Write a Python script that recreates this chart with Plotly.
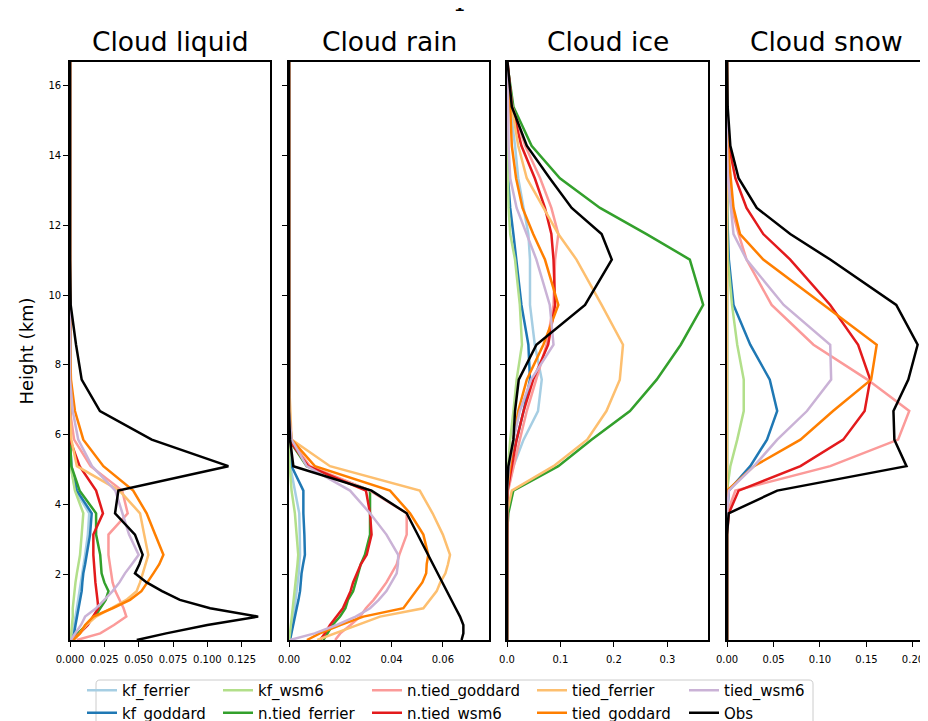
import plotly.graph_objects as go

# ---------------- data ----------------
heights = [0.12, 0.31, 0.55, 0.79, 1.03, 1.27, 1.52, 1.77, 2.03, 2.29, 2.56, 3.14, 3.75, 4.40,
           5.10, 5.86, 6.68, 7.58, 8.58, 9.72, 11.02, 11.75, 12.50, 13.35, 14.28, 15.40, 16.68]

series_names = ["kf_ferrier", "kf_goddard", "kf_wsm6", "n.tied_ferrier", "n.tied_goddard",
                "n.tied_wsm6", "tied_ferrier", "tied_goddard", "tied_wsm6", "Obs"]
series_colors = ["#a6cee3", "#1f78b4", "#b2df8a", "#33a02c", "#fb9a99",
                 "#e31a1c", "#fdbf6f", "#ff7f00", "#cab2d6", "#000000"]

panel_titles = ["Cloud liquid", "Cloud rain", "Cloud ice", "Cloud snow"]
y_tick_values = [2, 4, 6, 8, 10, 12, 14, 16]

liquid = {
    "kf_ferrier":     [0.001, 0.002, 0.003, 0.004, 0.005, 0.006, 0.007, 0.008, 0.009, 0.010, 0.011, 0.013, 0.014, 0.004, 0.0005] + [0] * 12,
    "kf_goddard":     [0.001, 0.003, 0.004, 0.005, 0.0065, 0.0075, 0.0085, 0.009, 0.0097, 0.011, 0.012, 0.0146, 0.0158, 0.005, 0.001] + [0] * 12,
    "kf_wsm6":        [0.0005, 0.001, 0.0015, 0.002, 0.002, 0.0025, 0.003, 0.004, 0.005, 0.006, 0.0073, 0.0085, 0.0097, 0.0036, 0.0005] + [0] * 12,
    "n.tied_ferrier": [0.001, 0.006, 0.012, 0.018, 0.022, 0.026, 0.028, 0.025, 0.023, 0.0225, 0.022, 0.019, 0.019, 0.007, 0.001] + [0] * 12,
    "n.tied_goddard": [0.005, 0.022, 0.032, 0.041, 0.039, 0.036, 0.033, 0.031, 0.030, 0.029, 0.028, 0.028, 0.042, 0.038, 0.015, 0.003] + [0] * 11,
    "n.tied_wsm6":    [0.001, 0.007, 0.013, 0.017, 0.0206, 0.020, 0.019, 0.0185, 0.018, 0.0175, 0.017, 0.017, 0.024, 0.019, 0.007] + [0] * 12,
    "tied_ferrier":   [0.002, 0.007, 0.012, 0.019, 0.030, 0.041, 0.0485, 0.051, 0.053, 0.055, 0.057, 0.054, 0.051, 0.036, 0.005, 0.001] + [0] * 11,
    "tied_goddard":   [0.0024, 0.0073, 0.011, 0.017, 0.031, 0.0437, 0.052, 0.056, 0.0607, 0.065, 0.068, 0.062, 0.0558, 0.046, 0.0243, 0.0097, 0.0036, 0.0007] + [0] * 9,
    "tied_wsm6":      [0.0005, 0.004, 0.008, 0.011, 0.019, 0.025, 0.031, 0.036, 0.040, 0.045, 0.050, 0.043, 0.038, 0.033, 0.016, 0.006, 0.002] + [0] * 10,
    "Obs":            [0.0486, 0.070, 0.100, 0.137, 0.102, 0.080, 0.067, 0.0558, 0.0473, 0.0505, 0.0529, 0.0473, 0.0328, 0.0352, 0.1153, 0.0595, 0.0218, 0.0085, 0.0044, 0.0005] + [0] * 7,
}

rain = {
    "kf_ferrier":     [0.0002, 0.0008, 0.0013, 0.0018, 0.0022, 0.0026, 0.003, 0.0035, 0.0038, 0.004, 0.0043, 0.0042, 0.004, 0.0023, 0.0005] + [0] * 12,
    "kf_goddard":     [0.0004, 0.001, 0.0017, 0.0023, 0.003, 0.0037, 0.0043, 0.0046, 0.0049, 0.0055, 0.0062, 0.006, 0.0056, 0.0056, 0.001] + [0] * 12,
    "kf_wsm6":        [0.0001, 0.0004, 0.0007, 0.001, 0.0014, 0.0018, 0.0022, 0.0026, 0.003, 0.0033, 0.0036, 0.003, 0.0023, 0.001, 0.0003] + [0] * 12,
    "n.tied_ferrier": [0.0134, 0.015, 0.017, 0.0199, 0.022, 0.023, 0.025, 0.026, 0.027, 0.028, 0.0296, 0.0316, 0.0316, 0.0316, 0.0069] + [0] * 12,
    "n.tied_goddard": [0.018, 0.020, 0.024, 0.0277, 0.030, 0.033, 0.0355, 0.038, 0.040, 0.042, 0.043, 0.0459, 0.0459, 0.0316, 0.0082, 0.0005] + [0] * 11,
    "n.tied_wsm6":    [0.0121, 0.014, 0.016, 0.0186, 0.021, 0.0225, 0.024, 0.025, 0.0264, 0.028, 0.0303, 0.0322, 0.0316, 0.030, 0.0075] + [0] * 12,
    "tied_ferrier":   [0.011, 0.018, 0.026, 0.0355, 0.0524, 0.055, 0.0576, 0.059, 0.061, 0.062, 0.0628, 0.060, 0.056, 0.051, 0.016, 0.001, 0.0004] + [0] * 10,
    "tied_goddard":   [0.007, 0.012, 0.020, 0.029, 0.0446, 0.047, 0.0498, 0.052, 0.0535, 0.0537, 0.0543, 0.0524, 0.0472, 0.0394, 0.0101, 0.001] + [0] * 11,
    "tied_wsm6":      [0.0004, 0.010, 0.0186, 0.026, 0.0316, 0.035, 0.038, 0.040, 0.042, 0.0425, 0.0426, 0.038, 0.0316, 0.0238, 0.0069, 0.001] + [0] * 11,
    "Obs":            [0.0673, 0.068, 0.068, 0.0667, 0.0650, 0.0633, 0.0616, 0.0598, 0.0580, 0.0562, 0.0543, 0.0502, 0.0459, 0.0322, 0.0017, 0.0004] + [0] * 11,
}

ice = {
    "kf_ferrier":     [0] * 13 + [0.001, 0.012, 0.031, 0.058, 0.065, 0.052, 0.043, 0.043, 0.040, 0.031, 0.021, 0.015, 0.006, 0],
    "kf_goddard":     [0] * 13 + [0, 0.006, 0.018, 0.031, 0.043, 0.040, 0.027, 0.018, 0.012, 0.006, 0.002, 0.001, 0, 0],
    "kf_wsm6":        [0] * 13 + [0, 0.002, 0.006, 0.012, 0.018, 0.028, 0.024, 0.015, 0.006, 0.003, 0.001, 0, 0, 0],
    "n.tied_ferrier": [0] * 12 + [0.0025, 0.0118, 0.096, 0.158, 0.230, 0.280, 0.325, 0.367, 0.342, 0.261, 0.174, 0.099, 0.046, 0.012, 0],
    "n.tied_goddard": [0] * 13 + [0.002, 0.012, 0.024, 0.037, 0.055, 0.074, 0.087, 0.090, 0.096, 0.083, 0.062, 0.034, 0.010, 0],
    "n.tied_wsm6":    [0] * 13 + [0.001, 0.009, 0.018, 0.031, 0.049, 0.077, 0.090, 0.087, 0.083, 0.071, 0.052, 0.027, 0.009, 0.001],
    "tied_ferrier":   [0] * 13 + [0.009, 0.087, 0.150, 0.186, 0.211, 0.217, 0.177, 0.130, 0.096, 0.068, 0.037, 0.021, 0.009, 0],
    "tied_goddard":   [0] * 13 + [0, 0.006, 0.012, 0.021, 0.037, 0.068, 0.096, 0.071, 0.049, 0.029, 0.017, 0.009, 0.006, 0],
    "tied_wsm6":      [0] * 13 + [0, 0.004, 0.012, 0.024, 0.045, 0.087, 0.080, 0.055, 0.037, 0.018, 0.006, 0.003, 0.002, 0],
    "Obs":            [0] * 13 + [0, 0.0025, 0.012, 0.015, 0.022, 0.055, 0.146, 0.196, 0.177, 0.121, 0.080, 0.037, 0.009, 0.001],
}

snow = {
    "kf_ferrier":     [0] * 27,
    "kf_goddard":     [0] * 13 + [0.002, 0.025, 0.043, 0.054, 0.046, 0.025, 0.007, 0.002, 0.001, 0, 0, 0, 0, 0],
    "kf_wsm6":        [0] * 14 + [0.0036, 0.011, 0.018, 0.018, 0.011, 0.0054, 0.001, 0, 0, 0, 0, 0, 0],
    "n.tied_ferrier": [0] * 27,
    "n.tied_goddard": [0] * 13 + [0.009, 0.111, 0.184, 0.196, 0.151, 0.093, 0.048, 0.021, 0.0125, 0.005, 0.002, 0, 0, 0],
    "n.tied_wsm6":    [0] * 12 + [0.002, 0.0125, 0.079, 0.125, 0.148, 0.154, 0.141, 0.111, 0.068, 0.039, 0.021, 0.009, 0.002, 0, 0],
    "tied_ferrier":   [0] * 27,
    "tied_goddard":   [0] * 13 + [0, 0.029, 0.079, 0.114, 0.155, 0.161, 0.104, 0.039, 0.014, 0.007, 0.004, 0.001, 0, 0],
    "tied_wsm6":      [0] * 13 + [0.002, 0.029, 0.054, 0.086, 0.112, 0.111, 0.061, 0.021, 0.007, 0.004, 0.001, 0, 0, 0],
    "Obs":            [0] * 12 + [0.0018, 0.054, 0.193, 0.180, 0.179, 0.195, 0.205, 0.182, 0.111, 0.068, 0.032, 0.0125, 0.0036, 0.0007, 0],
}

x_ranges = [[0, 0.1456], [0, 0.078], [0, 0.376], [0, 0.214]]
x_ticks = [[0.0, 0.025, 0.05, 0.075, 0.1, 0.125],
           [0.0, 0.02, 0.04, 0.06],
           [0.0, 0.1, 0.2, 0.3],
           [0.0, 0.05, 0.10, 0.15, 0.20]]
x_tick_formats = [".3f", ".2f", ".1f", ".2f"]

# ---------------- figure ----------------
W, H = 928, 721
FONT = "DejaVu Sans"
OFF = 8  # the page body adds an 8px margin; positions below are given in screen pixels

def px_x(p):
    return (p - OFF) / W

def px_y(p):
    return (H - (p - OFF)) / H

x_domains = [[70, 270], [289, 489], [507, 708], [727, 926]]
y_domain = [px_y(640), px_y(62)]

# legend column assignment (matplotlib ncol=5 fills column-wise)
legend_of = {
    "kf_ferrier": "legend", "kf_goddard": "legend",
    "kf_wsm6": "legend2", "n.tied_ferrier": "legend2",
    "n.tied_goddard": "legend3", "n.tied_wsm6": "legend3",
    "tied_ferrier": "legend4", "tied_goddard": "legend4",
    "tied_wsm6": "legend5", "Obs": "legend5",
}

fig = go.Figure()
panels = [liquid, rain, ice, snow]
for i, panel in enumerate(panels):
    xa = "x" if i == 0 else f"x{i+1}"
    ya = "y" if i == 0 else f"y{i+1}"
    for name, color in zip(series_names, series_colors):
        fig.add_trace(go.Scatter(
            x=panel[name], y=heights, mode="lines", name=name,
            line=dict(color=color, width=2.5),
            xaxis=xa, yaxis=ya,
            showlegend=(i == 0), legend=legend_of[name],
        ))

layout = dict(
    width=W, height=H,
    margin=dict(l=0, r=0, t=0, b=0, autoexpand=False),
    paper_bgcolor="white", plot_bgcolor="white",
    font=dict(family=FONT, color="black"),
    showlegend=True,
)

axis_common = dict(
    showline=True, mirror=True, linecolor="black", linewidth=1.6,
    ticks="outside", ticklen=5, tickwidth=1.3, tickcolor="black",
    showgrid=False, zeroline=False, automargin=False,
    tickfont=dict(family=FONT, size=10, color="black"),
)

for i in range(4):
    xkey = "xaxis" if i == 0 else f"xaxis{i+1}"
    ykey = "yaxis" if i == 0 else f"yaxis{i+1}"
    yname = "y" if i == 0 else f"y{i+1}"
    xname = "x" if i == 0 else f"x{i+1}"
    layout[xkey] = dict(
        axis_common,
        domain=[px_x(x_domains[i][0]), px_x(x_domains[i][1])],
        range=x_ranges[i], anchor=yname,
        tickvals=x_ticks[i], tickformat=x_tick_formats[i],
        ticklabelstandoff=4,
    )
    yax = dict(
        axis_common,
        domain=y_domain, range=[heights[0], heights[-1]], anchor=xname,
        tickvals=y_tick_values, showticklabels=(i == 0),
    )
    if i == 0:
        yax["title"] = dict(text="Height (km)", font=dict(family=FONT, size=18), standoff=10)
    else:
        yax["matches"] = "y"
    layout[ykey] = yax

# five legend columns
legend_cols_px = [82, 218, 367, 532, 684]
legend_keys = ["legend", "legend2", "legend3", "legend4", "legend5"]
for key, xp in zip(legend_keys, legend_cols_px):
    layout[key] = dict(
        x=px_x(xp), y=px_y(674), xanchor="left", yanchor="top",
        orientation="v", bgcolor="rgba(0,0,0,0)", borderwidth=0,
        font=dict(family=FONT, size=15, color="black"),
        tracegroupgap=0,
    )

fig.update_layout(**layout)

# panel titles
annotations = []
for i, t in enumerate(panel_titles):
    cx = (x_domains[i][0] + x_domains[i][1]) / 2
    annotations.append(dict(
        text=t, x=px_x(cx), y=px_y(42), xref="paper", yref="paper",
        xanchor="center", yanchor="middle", showarrow=False,
        font=dict(family=FONT, size=26.5, color="black"),
    ))
# partially visible super-title (cut off at the top of the image)
annotations.append(dict(
    text="p", x=px_x(464), y=px_y(14), xref="paper", yref="paper",
    xanchor="center", yanchor="bottom", showarrow=False,
    font=dict(family="DejaVu Serif", size=30, color="black"),
))
fig.update_layout(annotations=annotations)

# legend frame (rounded rectangle)
x0, x1, y0, y1 = 96, 813, 680, 745
r = 4
def P(xp, yp):
    return f"{px_x(xp):.5f},{px_y(yp):.5f}"
path = (f"M {P(x0 + r, y0)} L {P(x1 - r, y0)} Q {P(x1, y0)} {P(x1, y0 + r)} "
        f"L {P(x1, y1)} L {P(x0, y1)} L {P(x0, y0 + r)} Q {P(x0, y0)} {P(x0 + r, y0)} Z")
fig.add_shape(type="path", path=path, xref="paper", yref="paper",
              line=dict(color="#cccccc", width=1), fillcolor="rgba(255,255,255,0.8)",
              layer="below")

fig.write_html("out.html")
